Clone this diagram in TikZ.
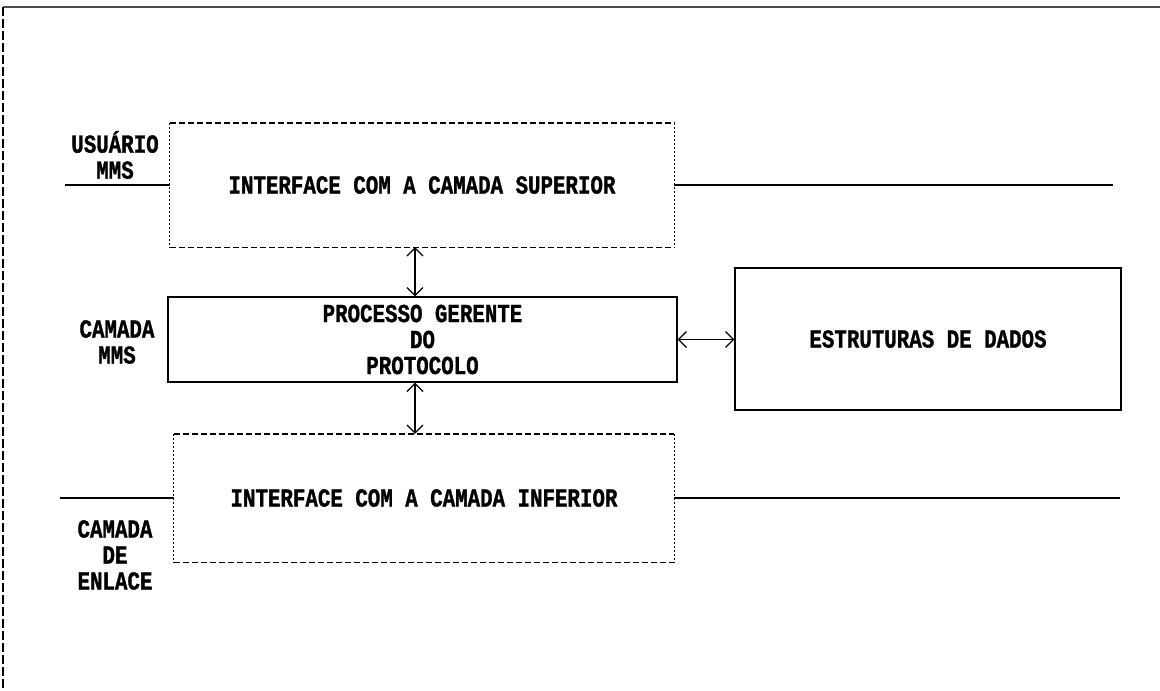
\documentclass[tikz,border=0pt]{standalone}
\usepackage{fontspec}
\newfontfamily\plotfont[FakeStretch=0.8,BoldFeatures={FakeBold=1.2}]{Liberation Mono}
\usetikzlibrary{arrows.meta}
\begin{document}
\begin{tikzpicture}[x=1pt,y=-1pt,
  lbl/.style={font=\plotfont\bfseries\fontsize{26}{26}\selectfont, align=center, inner sep=0pt},
  blockarea/.style={lbl},
  dashedge/.style={line width=1.4pt, dash pattern=on 6pt off 3pt},
  dotedge/.style={line width=1.3pt, dash pattern=on 2.5pt off 1.5pt},
  solidbox/.style={lbl, draw, line width=1.3pt},
  link/.style={line width=1.3pt},
  dbl/.style={line width=1.2pt, {Straight Barb[length=8pt,width=16pt]}-{Straight Barb[length=8pt,width=16pt]}},
  frametop/.style={line width=1.6pt, gray!60!black},
  frameleft/.style={line width=1.4pt, dash pattern=on 9pt off 3pt}
]
\useasboundingbox (0,0) rectangle (1160,691);

% outer frame (top edge and left edge only)
\coordinate (fbl) at (3,691);
\coordinate (ftl) at (3,7);
\coordinate (ftr) at (1160,7);
\draw[frametop] (ftl) -- (ftr);
\draw[frameleft] (ftl) -- (fbl);

% blocks
\node[blockarea, minimum width=504pt, minimum height=124pt] (sup) at (422,185) {INTERFACE COM A CAMADA SUPERIOR};
\node[solidbox, minimum width=509pt, minimum height=85pt] (ger) at (422.5,339.5) {PROCESSO GERENTE\\DO\\PROTOCOLO};
\node[blockarea, minimum width=500pt, minimum height=128pt] (inf) at (424,498) {INTERFACE COM A CAMADA INFERIOR};
\node[solidbox, minimum width=386pt, minimum height=142pt] (dad) at (928,339) {ESTRUTURAS DE DADOS};

% interface blocks: dashed top and bottom edges, finely dotted sides
\foreach \b in {sup,inf} {
  \draw[dashedge] (\b.north west) -- (\b.north east);
  \draw[dashedge] (\b.south west) -- (\b.south east);
  \draw[dotedge] (\b.north west) -- (\b.south west);
  \draw[dotedge] (\b.north east) -- (\b.south east);
}

% layer labels
\node[lbl] (lusr) at (115,155) {USUÁRIO\\MMS};
\node[lbl] (lmms) at (117,342) {CAMADA\\MMS};
\node[lbl] (lenl) at (115,555) {CAMADA\\DE\\ENLACE};

% layer boundary lines
\coordinate (ul) at (65,185);
\coordinate (ur) at (1113,185);
\coordinate (bl) at (60,498);
\coordinate (br) at (1120,498);
\draw[link] (ul) -- (sup.west);
\draw[link] (sup.east) -- (ur);
\draw[link] (bl) -- (inf.west);
\draw[link] (inf.east) -- (br);

% exchanges between blocks
\coordinate (ax) at (415,0);
\draw[dbl] (sup.south -| ax) -- (ger.north -| ax);
\draw[dbl] (ger.south -| ax) -- (inf.north -| ax);
\draw[dbl] (ger.east) -- (dad.west |- ger.east);
\end{tikzpicture}
\end{document}
